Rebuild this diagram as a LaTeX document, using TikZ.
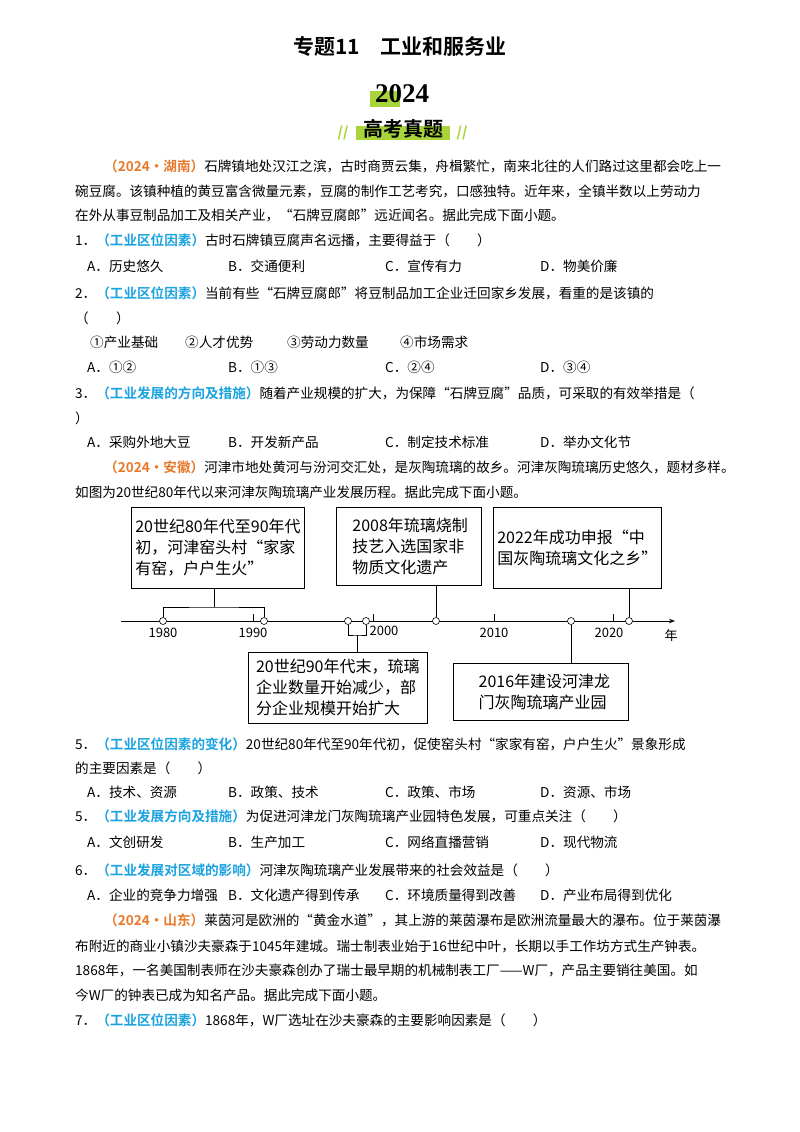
\documentclass[tikz,border=0pt]{standalone}
\usepackage{fontspec}
\setmainfont{Noto Sans CJK SC}
\newfontfamily\cjkb{Noto Sans CJK SC Bold}
\newfontfamily\serifb{Liberation Serif}
\usetikzlibrary{arrows.meta}
\definecolor{tagor}{HTML}{E8792A}
\definecolor{tagbl}{HTML}{1AA3E0}
\definecolor{hlgr}{HTML}{A8D63A}
\newcommand{\Or}[1]{{\color{tagor}\cjkb #1}}
\newcommand{\Bl}[1]{{\color{tagbl}\cjkb #1}}
\begin{document}
\begin{tikzpicture}[x=1pt,y=-1pt,
  txt/.style={anchor=west,inner sep=0pt,font=\fontsize{13.6}{14}\selectfont},
  evbox/.style={draw,line width=0.7pt,anchor=north west,inner sep=4pt,align=left,font=\fontsize{16}{21}\selectfont},
  axlab/.style={inner sep=0pt,font=\fontsize{13}{14}\selectfont},
  dot/.style={circle,draw,fill=white,inner sep=0pt,minimum size=7pt,line width=0.6pt},
  ln/.style={line width=0.7pt}]
\fill[white] (0,0) rectangle (800,1132);
\useasboundingbox (0,0) rectangle (800,1132);
% header
\node[inner sep=0,font=\cjkb\fontsize{21}{22}\selectfont] (title) at (400,47) {专题11\quad 工业和服务业};
\fill[hlgr] (370,91) rectangle (400,107);
\node[inner sep=0,font=\serifb\bfseries\fontsize{27}{28}\selectfont] (yr) at (402,94) {2024};
\fill[hlgr] (356,126) rectangle (450,140);
\node[inner sep=0,font=\cjkb\fontsize{20}{21}\selectfont] (gk) at (403,129) {高考真题};
\node[inner sep=0,text=hlgr,font=\bfseries\itshape\fontsize{14}{14}\selectfont] (sl1) at (343,133) {//};
\node[inner sep=0,text=hlgr,font=\bfseries\itshape\fontsize{14}{14}\selectfont] (sl2) at (462,133) {//};
% Hunan
\node[txt] (l1) at (104,166) {\Or{（2024·湖南）}石牌镇地处汉江之滨，古时商贾云集，舟楫繁忙，南来北往的人们路过这里都会吃上一};
\node[txt] (l2) at (75,191) {碗豆腐。该镇种植的黄豆富含微量元素，豆腐的制作工艺考究，口感独特。近年来，全镇半数以上劳动力};
\node[txt] (l3) at (75,215) {在外从事豆制品加工及相关产业，“石牌豆腐郎”远近闻名。据此完成下面小题。};
\node[txt] (q1) at (75,240) {1．\Bl{（工业区位因素）}古时石牌镇豆腐声名远播，主要得益于（\qquad ）};
\node[txt] (q1a) at (87,266) {A．历史悠久};
\node[txt] (q1b) at (228,266) {B．交通便利};
\node[txt] (q1c) at (385,266) {C．宣传有力};
\node[txt] (q1d) at (540,266) {D．物美价廉};
\node[txt] (q2) at (75,293) {2．\Bl{（工业区位因素）}当前有些“石牌豆腐郎”将豆制品加工企业迁回家乡发展，看重的是该镇的};
\node[txt] (q2x) at (75,318) {（\qquad ）};
\node[txt] (o1) at (90,342) {①产业基础};
\node[txt] (o2) at (185,342) {②人才优势};
\node[txt] (o3) at (287,342) {③劳动力数量};
\node[txt] (o4) at (400,342) {④市场需求};
\node[txt] (q2a) at (87,367) {A．①②};
\node[txt] (q2b) at (228,367) {B．①③};
\node[txt] (q2c) at (385,367) {C．②④};
\node[txt] (q2d) at (540,367) {D．③④};
\node[txt] (q3) at (75,393) {3．\Bl{（工业发展的方向及措施）}随着产业规模的扩大，为保障“石牌豆腐”品质，可采取的有效举措是（};
\node[txt] (q3x) at (75,418) {）};
\node[txt] (q3a) at (87,442) {A．采购外地大豆};
\node[txt] (q3b) at (228,442) {B．开发新产品};
\node[txt] (q3c) at (385,442) {C．制定技术标准};
\node[txt] (q3d) at (540,442) {D．举办文化节};
% Anhui
\node[txt] (m1) at (104,467) {\Or{（2024·安徽）}河津市地处黄河与汾河交汇处，是灰陶琉璃的故乡。河津灰陶琉璃历史悠久，题材多样。};
\node[txt] (m2) at (75,492) {如图为20世纪80年代以来河津灰陶琉璃产业发展历程。据此完成下面小题。};
% timeline
\draw[ln,-{Stealth[length=6pt]}] (121,621) -- (675,621);
\node[axlab] (nian) at (671,636) {年};
\foreach \x in {253,373,494,613} \draw[ln] (\x,614) -- (\x,621);
\node[axlab] (y80) at (163,633) {1980};
\node[axlab] (y90) at (253,633) {1990};
\node[axlab] (y00) at (384,631) {2000};
\node[axlab] (y10) at (494,633) {2010};
\node[axlab] (y20) at (609,633) {2020};
\node[evbox,minimum width=166pt,minimum height=81pt] (b1) at (131,507) {20世纪80年代至90年代\\初，河津窑头村“家家\\有窑，户户生火”};
\node[evbox,minimum width=145pt,minimum height=78pt] (b2) at (336,507) {\,2008年琉璃烧制\\\,技艺入选国家非\\\,物质文化遗产};
\node[evbox,minimum width=168pt,minimum height=81pt] (b3) at (493,507) {2022年成功申报“中\\国灰陶琉璃文化之乡”};
\node[evbox,minimum width=179pt,minimum height=71pt] (b4) at (248,652) {20世纪90年代末，琉璃\\企业数量开始减少，部\\分企业规模开始扩大};
\node[evbox,minimum width=175pt,minimum height=57pt] (b5) at (453,663) {\ \ 2016年建设河津龙\\\ \ 门灰陶琉璃产业园};
\node[dot] (c80) at (163,621) {};
\node[dot] (c91) at (264,621) {};
\node[dot] (c97) at (348,621) {};
\node[dot] (c99) at (366,621) {};
\node[dot] (c05) at (436,621) {};
\node[dot] (c16) at (571,621) {};
\node[dot] (c22) at (629,621) {};
\coordinate (k1) at (214,607);
\coordinate (k2) at (357,635);
\draw[ln] (c80.north) |- (k1) -| (c91.north);
\draw[ln] (k1) -- (k1 |- b1.south);
\draw[ln] (c97.south) |- (k2) -| (c99.south);
\draw[ln] (k2) -- (k2 |- b4.north);
\draw[ln] (c05.north) -- (c05 |- b2.south);
\draw[ln] (c22.north) -- (c22 |- b3.south);
\draw[ln] (c16.south) -- (c16 |- b5.north);
% questions 5-6
\node[txt] (q5) at (75,744) {5．\Bl{（工业区位因素的变化）}20世纪80年代至90年代初，促使窑头村“家家有窑，户户生火”景象形成};
\node[txt] (q5x) at (75,768) {的主要因素是（\qquad ）};
\node[txt] (q5a) at (87,792) {A．技术、资源};
\node[txt] (q5b) at (228,792) {B．政策、技术};
\node[txt] (q5c) at (385,792) {C．政策、市场};
\node[txt] (q5d) at (540,792) {D．资源、市场};
\node[txt] (q6) at (75,816) {5．\Bl{（工业发展方向及措施）}为促进河津龙门灰陶琉璃产业园特色发展，可重点关注（\qquad ）};
\node[txt] (q6a) at (87,842) {A．文创研发};
\node[txt] (q6b) at (228,842) {B．生产加工};
\node[txt] (q6c) at (385,842) {C．网络直播营销};
\node[txt] (q6d) at (540,842) {D．现代物流};
\node[txt] (q7) at (75,870) {6．\Bl{（工业发展对区域的影响）}河津灰陶琉璃产业发展带来的社会效益是（\qquad ）};
\node[txt] (q7a) at (87,895) {A．企业的竞争力增强};
\node[txt] (q7b) at (228,895) {B．文化遗产得到传承};
\node[txt] (q7c) at (385,895) {C．环境质量得到改善};
\node[txt] (q7d) at (540,895) {D．产业布局得到优化};
% Shandong
\node[txt] (s1) at (104,920) {\Or{（2024·山东）}莱茵河是欧洲的“黄金水道”，其上游的莱茵瀑布是欧洲流量最大的瀑布。位于莱茵瀑};
\node[txt] (s2) at (75,946) {布附近的商业小镇沙夫豪森于1045年建城。瑞士制表业始于16世纪中叶，长期以手工作坊方式生产钟表。};
\node[txt] (s3) at (75,970) {1868年，一名美国制表师在沙夫豪森创办了瑞士最早期的机械制表工厂——W厂，产品主要销往美国。如};
\node[txt] (s4) at (75,995) {今W厂的钟表已成为知名产品。据此完成下面小题。};
\node[txt] (q8) at (75,1020) {7．\Bl{（工业区位因素）}1868年，W厂选址在沙夫豪森的主要影响因素是（\qquad ）};
\end{tikzpicture}
\end{document}
